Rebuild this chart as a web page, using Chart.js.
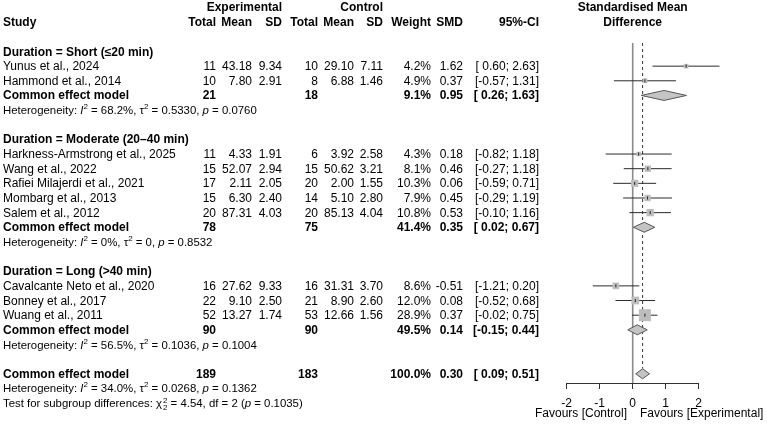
<!DOCTYPE html>
<html>
<head>
<meta charset="utf-8">
<script src="https://cdn.jsdelivr.net/npm/chart.js@4.4.1/dist/chart.umd.min.js"></script>
<style>
html, body { margin: 0; padding: 0; background: #fff; }
#wrap { position: relative; width: 767px; height: 429px; overflow: hidden; font-family: 'Liberation Sans', Arial, sans-serif; color: #000; }
#plot { position: absolute; left: 0; top: 0; }
.t { position: absolute; font-size: 12px; line-height: 14px; white-space: pre; }
.b { font-weight: bold; }
.h { font-size: 11.4px; }
.t sup { font-size: 8px; vertical-align: 5px; line-height: 0; }
.ss { display: inline-block; font-size: 8px; line-height: 7px; vertical-align: -3px; margin-left: 1px; }
</style>
</head>
<body>
<div id="wrap">
  <canvas id="plot" width="767" height="429"></canvas>
</div>
<script>
// studies
const studies = ['Yunus et al., 2024', 'Hammond et al., 2014', 'Harkness-Armstrong et al., 2025', 'Wang et al., 2022',
  'Rafiei Milajerdi et al., 2021', 'Mombarg et al., 2013', 'Salem et al., 2012',
  'Cavalcante Neto et al., 2020', 'Bonney et al., 2017', 'Wuang et al., 2011'];
const studyGroup = [0, 0, 1, 1, 1, 1, 1, 2, 2, 2];
const expTotal = [11, 10, 11, 15, 17, 15, 20, 16, 22, 52];
const expMean = [43.18, 7.80, 4.33, 52.07, 2.11, 6.30, 87.31, 27.62, 9.10, 13.27];
const expSD = [9.34, 2.91, 1.91, 2.94, 2.05, 2.40, 4.03, 9.33, 2.50, 1.74];
const ctlTotal = [10, 8, 6, 15, 20, 14, 20, 16, 21, 53];
const ctlMean = [29.10, 6.88, 3.92, 50.62, 2.00, 5.10, 85.13, 31.31, 8.90, 12.66];
const ctlSD = [7.11, 1.46, 2.58, 3.21, 1.55, 2.80, 4.04, 3.70, 2.60, 1.56];
const weight = [4.2, 4.9, 4.3, 8.1, 10.3, 7.9, 10.8, 8.6, 12.0, 28.9];
const smd = [1.62, 0.37, 0.18, 0.46, 0.06, 0.45, 0.53, -0.51, 0.08, 0.37];
const ciLow = [0.60, -0.57, -0.82, -0.27, -0.59, -0.29, -0.10, -1.21, -0.52, -0.02];
const ciHigh = [2.63, 1.31, 1.18, 1.18, 0.71, 1.19, 1.16, 0.20, 0.68, 0.75];

// subgroups
const groups = ['Duration = Short (≤20 min)', 'Duration = Moderate (20–40 min)', 'Duration = Long (>40 min)'];
const groupExpTotal = [21, 78, 90];
const groupCtlTotal = [18, 75, 90];
const groupWeight = [9.1, 41.4, 49.5];
const groupSmd = [0.95, 0.35, 0.14];
const groupLow = [0.26, 0.02, -0.15];
const groupHigh = [1.63, 0.67, 0.44];
const groupI2 = ['68.2%', '0%', '56.5%'];
const groupTau2 = ['0.5330', '0', '0.1036'];
const groupP = ['0.0760', '0.8532', '0.1004'];

// overall
const overall = { expTotal: 189, ctlTotal: 183, weight: 100.0, smd: 0.30, low: 0.09, high: 0.51 };
const overallHet = ['34.0%', '0.0268', '0.1362'];
const subgroupTest = ['4.54', '2', '0.1035'];

const axisTicks = [-2, -1, 0, 1, 2];

const wrap = document.getElementById('wrap');
const rowY = k => 51.5 + 14.65 * k;
const col = { study: 3, eT: 216, eM: 252, eS: 282, cT: 318, cM: 354, cS: 383, w: 431, smd: 463, ci: 539 };

function put(html, x, y, align, cls) {
  const d = document.createElement('div');
  d.className = 't ' + (cls || '');
  d.innerHTML = html;
  d.style.top = (y - 7) + 'px';
  if (align === 'right') d.style.right = (767 - x) + 'px';
  else if (align === 'center') { d.style.left = (x - 150) + 'px'; d.style.width = '300px'; d.style.textAlign = 'center'; }
  else d.style.left = x + 'px';
  wrap.appendChild(d);
}

const f2 = v => v.toFixed(2);
const ci = (lo, hi) => '[' + (lo < 0 ? '' : ' ') + f2(lo) + '; ' + f2(hi) + ']';
const het = (i2, tau2, p) => 'Heterogeneity: <i>I</i><sup>2</sup> = ' + i2 + ', τ<sup>2</sup> = ' + tau2 + ', <i>p</i> = ' + p;

// headers
put('Experimental', col.eS, 7, 'right', 'b');
put('Control', col.cS, 7, 'right', 'b');
put('Study', col.study, 22, 'left', 'b');
[['Total', col.eT], ['Mean', col.eM], ['SD', col.eS], ['Total', col.cT], ['Mean', col.cM], ['SD', col.cS],
 ['Weight', col.w], ['SMD', col.smd], ['95%-CI', col.ci]].forEach(h => put(h[0], h[1], 22, 'right', 'b'));
put('Standardised Mean', 632.7, 7, 'center', 'b');
put('Difference', 632.7, 22, 'center', 'b');

// table rows + row index of each mark
const studyRow = [];
const groupRow = [];
let k = 0;
groups.forEach((g, gi) => {
  put(g, col.study, rowY(k), 'left', 'b');
  k++;
  studies.forEach((s, i) => {
    if (studyGroup[i] !== gi) return;
    const y = rowY(k);
    put(s, col.study, y, 'left');
    put(String(expTotal[i]), col.eT, y, 'right');
    put(f2(expMean[i]), col.eM, y, 'right');
    put(f2(expSD[i]), col.eS, y, 'right');
    put(String(ctlTotal[i]), col.cT, y, 'right');
    put(f2(ctlMean[i]), col.cM, y, 'right');
    put(f2(ctlSD[i]), col.cS, y, 'right');
    put(weight[i].toFixed(1) + '%', col.w, y, 'right');
    put(f2(smd[i]), col.smd, y, 'right');
    put(ci(ciLow[i], ciHigh[i]), col.ci, y, 'right');
    studyRow[i] = k;
    k++;
  });
  const y = rowY(k);
  put('Common effect model', col.study, y, 'left', 'b');
  put(String(groupExpTotal[gi]), col.eT, y, 'right', 'b');
  put(String(groupCtlTotal[gi]), col.cT, y, 'right', 'b');
  put(groupWeight[gi].toFixed(1) + '%', col.w, y, 'right', 'b');
  put(f2(groupSmd[gi]), col.smd, y, 'right', 'b');
  put(ci(groupLow[gi], groupHigh[gi]), col.ci, y, 'right', 'b');
  groupRow[gi] = k;
  k++;
  put(het(groupI2[gi], groupTau2[gi], groupP[gi]), col.study, rowY(k), 'left', 'h');
  k += 2;
});
const overallRow = k;
put('Common effect model', col.study, rowY(k), 'left', 'b');
put(String(overall.expTotal), col.eT, rowY(k), 'right', 'b');
put(String(overall.ctlTotal), col.cT, rowY(k), 'right', 'b');
put(overall.weight.toFixed(1) + '%', col.w, rowY(k), 'right', 'b');
put(f2(overall.smd), col.smd, rowY(k), 'right', 'b');
put(ci(overall.low, overall.high), col.ci, rowY(k), 'right', 'b');
put(het(overallHet[0], overallHet[1], overallHet[2]), col.study, rowY(k + 1), 'left', 'h');
put('Test for subgroup differences: χ<span class="ss">2<br>2</span> = ' + subgroupTest[0] + ', df = ' + subgroupTest[1] +
    ' (<i>p</i> = ' + subgroupTest[2] + ')', col.study, rowY(k + 2), 'left', 'h');

put('Favours [Control]', 627, 413, 'right');
put('Favours [Experimental]', 640, 413, 'left');

// plot
const yTop = -0.58, yBottom = 22.63, halfDiamond = 0.34;
const datasets = [];

datasets.push({ type: 'line', data: [{ x: 0, y: yTop }, { x: 0, y: yBottom }],
  borderColor: '#8a8a8a', borderWidth: 1.6, pointRadius: 0, order: 9, clip: false });
datasets.push({ type: 'line', data: [{ x: overall.smd, y: yTop }, { x: overall.smd, y: overallRow - halfDiamond }],
  borderColor: '#333', borderWidth: 1, borderDash: [3, 3], pointRadius: 0, order: 8, clip: false });

studies.forEach((s, i) => {
  datasets.push({ type: 'line', data: [{ x: ciLow[i], y: studyRow[i] }, { x: ciHigh[i], y: studyRow[i] }],
    borderColor: '#2b2b2b', borderWidth: 1, pointRadius: 0, order: 6, clip: false });
});

datasets.push({ type: 'scatter', data: studies.map((s, i) => ({ x: smd[i], y: studyRow[i] })),
  pointStyle: 'rect', pointRadius: weight.map(w => 12 * Math.sqrt(w / 28.9) / Math.SQRT2),
  backgroundColor: '#bdbdbd', borderWidth: 0, order: 4, clip: false });
datasets.push({ type: 'scatter', data: studies.map((s, i) => ({ x: smd[i], y: studyRow[i] })),
  pointStyle: 'line', rotation: 90, pointRadius: 1.5, borderColor: '#222', borderWidth: 1, order: 2, clip: false });

const diamond = (est, lo, hi, r) => [
  { x: lo, y: r }, { x: est, y: r - halfDiamond }, { x: hi, y: r }, { x: est, y: r + halfDiamond }, { x: lo, y: r }];
groups.forEach((g, gi) => {
  datasets.push({ type: 'line', data: diamond(groupSmd[gi], groupLow[gi], groupHigh[gi], groupRow[gi]),
    borderColor: '#555', borderWidth: 1, backgroundColor: '#c4c4c4', fill: 'shape', pointRadius: 0,
    tension: 0, order: 3, clip: false });
});
datasets.push({ type: 'line', data: diamond(overall.smd, overall.low, overall.high, overallRow),
  borderColor: '#555', borderWidth: 1, backgroundColor: '#c4c4c4', fill: 'shape', pointRadius: 0,
  tension: 0, order: 3, clip: false });

new Chart(document.getElementById('plot'), {
  type: 'scatter',
  data: { datasets: datasets },
  options: {
    responsive: false,
    animation: false,
    devicePixelRatio: 1,
    layout: { padding: { left: 566.7, right: 68.3, top: 43, bottom: 0 } },
    plugins: { legend: { display: false }, tooltip: { enabled: false } },
    scales: {
      x: {
        type: 'linear', min: -2, max: 2,
        afterFit: scale => { scale.height = 46; },
        afterBuildTicks: scale => { scale.ticks = axisTicks.map(v => ({ value: v })); },
        ticks: { color: '#000', padding: 7, font: { family: "'Liberation Sans', Arial", size: 12 }, maxRotation: 0 },
        grid: { drawOnChartArea: false, drawTicks: true, tickLength: 6, color: '#333', lineWidth: 1 },
        border: { display: true, color: '#333', width: 1 }
      },
      y: { type: 'linear', reverse: true, min: yTop, max: yBottom, display: false }
    }
  }
});
</script>
</body>
</html>
